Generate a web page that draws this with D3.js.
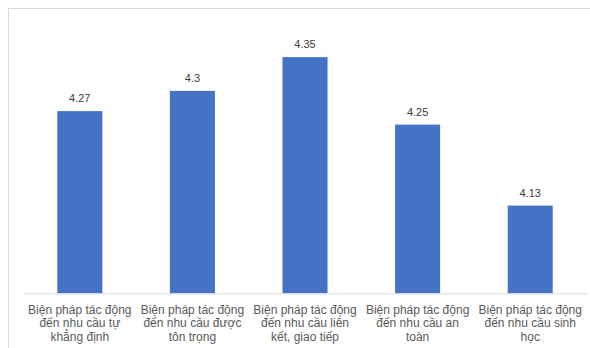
<!DOCTYPE html>
<html>
<head>
<meta charset="utf-8">
<script src="https://cdn.jsdelivr.net/npm/d3@7"></script>
<style>
  body { margin: 0; background: #fff; }
  text { font-family: "Liberation Sans", Arial, sans-serif; }
</style>
</head>
<body>
<div id="chart"></div>
<script>
// chart data
var categories = [
  "Biện pháp tác động đến nhu cầu tự khẳng định",
  "Biện pháp tác động đến nhu cầu được tôn trọng",
  "Biện pháp tác động đến nhu cầu liên kết, giao tiếp",
  "Biện pháp tác động đến nhu cầu an toàn",
  "Biện pháp tác động đến nhu cầu sinh học"
];
var values = [4.27, 4.3, 4.35, 4.25, 4.13];
var yDomain = [4.0, 4.4];

var W = 590, H = 348;
var margin = {top: 23.4, right: 4, bottom: 55, left: 23.5};

var svg = d3.select("#chart").append("svg")
    .attr("width", W)
    .attr("height", H);

// chart area border (right / bottom fall outside the window)
svg.append("rect")
    .attr("x", 8.5).attr("y", 8.5)
    .attr("width", 700).attr("height", 500)
    .attr("fill", "none")
    .attr("stroke", "#d9d9d9");

var x = d3.scaleBand()
    .domain(categories)
    .range([margin.left, 586.5])
    .paddingInner(0.6)
    .paddingOuter(0.3);

var y = d3.scaleLinear()
    .domain(yDomain)
    .range([293.3, margin.top]);

// bars
svg.selectAll("rect.bar")
    .data(values)
  .enter().append("rect")
    .attr("class", "bar")
    .attr("x", function(d, i) { return x(categories[i]); })
    .attr("y", function(d) { return y(d); })
    .attr("width", x.bandwidth())
    .attr("height", function(d) { return y(yDomain[0]) - y(d); })
    .attr("fill", "#4472c4");

// value labels
svg.selectAll("text.val")
    .data(values)
  .enter().append("text")
    .attr("class", "val")
    .attr("x", function(d, i) { return x(categories[i]) + x.bandwidth() / 2; })
    .attr("y", function(d) { return y(d) - 8.7; })
    .attr("text-anchor", "middle")
    .attr("fill", "#404040")
    .style("font-size", "11px")
    .text(function(d) { return d; });

// x axis
var xAxis = svg.append("g")
    .attr("transform", "translate(0," + 293.3 + ")")
    .call(d3.axisBottom(x).tickSize(0).tickPadding(0));

xAxis.select(".domain").attr("stroke", "#d9d9d9").attr("d", "M23.5,0.5H586.5");
xAxis.selectAll(".tick text")
    .attr("fill", "#595959")
    .style("font-size", "12px")
    .call(wrap, x.step() - 4);

function wrap(texts, width) {
  texts.each(function() {
    var text = d3.select(this),
        words = text.text().split(/\s+/),
        line = [],
        lines = [];
    text.text(null);
    var tmp = text.append("tspan");
    words.forEach(function(w) {
      line.push(w);
      tmp.text(line.join(" "));
      if (tmp.node().getComputedTextLength() > width && line.length > 1) {
        line.pop();
        lines.push(line.join(" "));
        line = [w];
      }
    });
    lines.push(line.join(" "));
    tmp.remove();
    lines.forEach(function(l, i) {
      text.append("tspan")
          .attr("x", 0)
          .attr("y", 20.7 + i * 13.4)
          .text(l);
    });
    text.attr("dy", null);
  });
}
</script>
</body>
</html>
